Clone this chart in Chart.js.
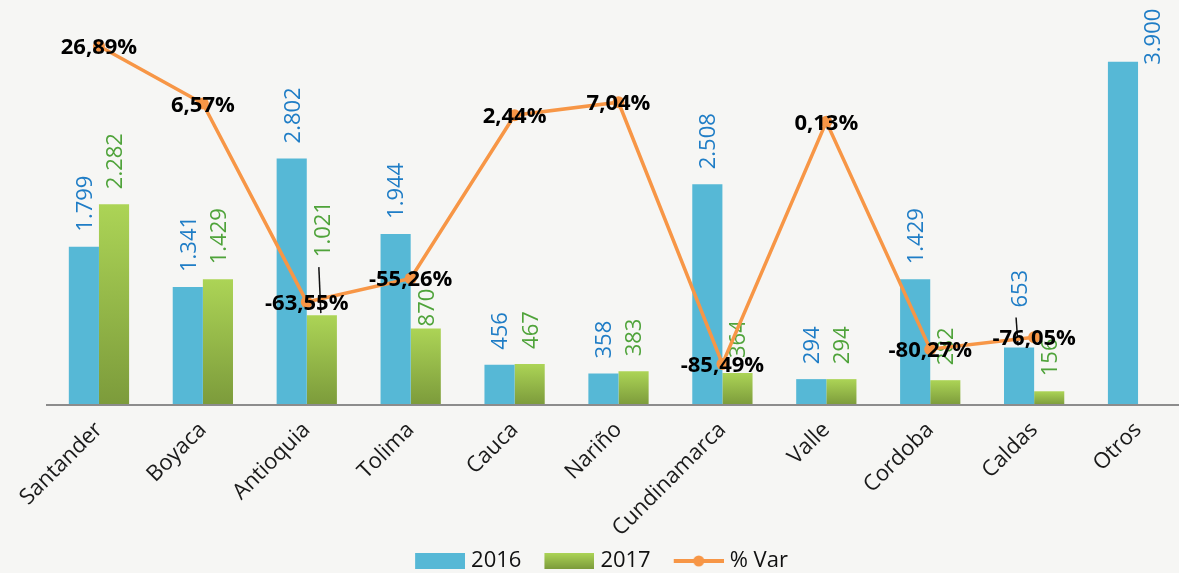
<!DOCTYPE html>
<html>
<head>
<meta charset="utf-8">
<script src="https://cdn.jsdelivr.net/npm/chart.js@4.4.1/dist/chart.umd.min.js"></script>
<style>
html,body{margin:0;padding:0;overflow:hidden;background:#f6f6f4;}
#wrap{width:1202px;height:582px;}
</style>
</head>
<body>
<div id="wrap"><canvas id="chart"></canvas></div>
<script>

/* Data */

const categories=["Santander","Boyaca","Antioquia","Tolima","Cauca","Nariño","Cundinamarca","Valle","Cordoba","Caldas","Otros"];
const values2016=[1799,1341,2802,1944,456,358,2508,294,1429,653,3900];
const values2017=[2282,1429,1021,870,467,383,364,294,282,156,null];
const varPct=[26.89,6.57,-63.55,-55.26,2.44,7.04,-85.49,0.13,-80.27,-76.05,null];

/* Label tweaks: dataset-index -> nudge */

const labelNudge={
"1-2":{dy:-43,leader:true},
"1-3":{dy:13},
"0-9":{dy:-25,leader:true},
"0-10":{side:true}
};

const blue="#56b8d6";
const orange="#f79646";
const blueText="#1f7dc6";
const greenText="#4fa33a";

function fmtThousands(n){
if(n>=1000){
return Math.floor(n/1000)+"."+String(n%1000).padStart(3,"0");
}
return String(n);
}

function fmtPct(v){
return v.toFixed(2).replace(".",",")+"%";
}

/* Legend glyphs (transparent strip on the left gives the gap between items) */

const glyphMargin=18;

function glyph(draw){
const c=document.createElement("canvas");
c.width=50+glyphMargin;c.height=16;
const g=c.getContext("2d");
g.translate(glyphMargin,0);
draw(g);
return c;
}

const blueGlyph=glyph(g=>{g.fillStyle=blue;g.fillRect(0,0,50,16);});
const greenGlyph=glyph(g=>{
const gr=g.createLinearGradient(0,0,0,16);
gr.addColorStop(0,"#acd456");
gr.addColorStop(1,"#7c9b3b");
g.fillStyle=gr;g.fillRect(0,0,50,16);
});
const lineGlyph=glyph(g=>{
g.strokeStyle=orange;g.lineWidth=4;
g.beginPath();g.moveTo(0,8);g.lineTo(50,8);g.stroke();
g.fillStyle=orange;g.beginPath();g.arc(25,8,5.5,0,Math.PI*2);g.fill();
});

/* Green bar gradient, one per bar */

function greenFill(ctx){
const chart=ctx.chart;
const y=chart.scales.y;
if(!y||ctx.raw==null) return "#9bbb59";
const top=y.getPixelForValue(ctx.raw);
const bottom=y.getPixelForValue(0);
if(!isFinite(top)||bottom-top<1) return "#9bbb59";
const gr=chart.ctx.createLinearGradient(0,top,0,bottom);
gr.addColorStop(0,"#acd456");
gr.addColorStop(1,"#7c9b3b");
return gr;
}

/* Labels plugin */

const labelsPlugin={
id:"labels",
afterDatasetDraw(chart,args){
const meta=args.meta;
if(meta.type!=="bar") return;
const c=chart.ctx;
const di=args.index;
const data=chart.data.datasets[di].data;
c.save();
c.font="22px 'Open Sans'";
c.fillStyle=di===0?blueText:greenText;
c.textAlign="left";
c.textBaseline="alphabetic";
const capH=22*0.714;
meta.data.forEach((bar,i)=>{
if(data[i]==null) return;
const n=labelNudge[di+"-"+i]||{};
let x=bar.x+capH/2;
let y=bar.y-15+(n.dy||0);
if(n.side){
x=bar.x+bar.width/2+6+capH;
y=bar.y+3;
}
c.save();
c.translate(x,y);
c.rotate(-Math.PI/2);
c.fillText(fmtThousands(data[i]),0,0);
c.restore();
if(n.leader){
c.save();
c.strokeStyle="#111";
c.lineWidth=1.5;
c.beginPath();
c.moveTo(bar.x-3,y+10);
c.lineTo(bar.x-1,bar.y-2);
c.stroke();
c.restore();
}
});
c.restore();
},
afterDatasetsDraw(chart){
const meta=chart.getDatasetMeta(2);
const c=chart.ctx;
c.save();
c.font="bold 22px 'Open Sans'";
c.fillStyle="#000";
c.textAlign="center";
c.textBaseline="alphabetic";
meta.data.forEach((pt,i)=>{
if(varPct[i]==null) return;
c.fillText(fmtPct(varPct[i]),pt.x,pt.y+8);
});
c.restore();
}
};

/* Chart */

const ctx=document.getElementById("chart");

const chart=new Chart(ctx,{
type:"bar",
data:{
labels:categories,
datasets:[{
label:"2016",
data:values2016,
backgroundColor:blue,
order:2,
categoryPercentage:0.58,
barPercentage:1
},{
label:"2017",
data:values2017,
backgroundColor:greenFill,
order:2,
categoryPercentage:0.58,
barPercentage:1
},{
type:"line",
label:"% Var",
data:varPct,
yAxisID:"y1",
borderColor:orange,
borderWidth:3.5,
pointRadius:6,
pointBackgroundColor:orange,
pointBorderWidth:0,
tension:0,
order:1
}]
},
options:{
responsive:true,
maintainAspectRatio:false,
animation:false,
events:[],
layout:{padding:{left:0,right:12,top:9,bottom:0}},
plugins:{
tooltip:{enabled:false},
legend:{
position:"bottom",
labels:{
usePointStyle:true,
pointStyleWidth:50+glyphMargin-10,
padding:10,
font:{family:"'Open Sans'",size:22},
color:"#111",
generateLabels(){
return [
{text:"2016",pointStyle:blueGlyph,fontColor:"#111",lineWidth:0,datasetIndex:0},
{text:"2017",pointStyle:greenGlyph,fontColor:"#111",lineWidth:0,datasetIndex:1},
{text:"% Var",pointStyle:lineGlyph,fontColor:"#111",lineWidth:0,datasetIndex:2}
];
}
}
}
},
scales:{
x:{
grid:{display:false,drawTicks:false},
border:{display:true,color:"#8c8c8c",width:2,z:1},
ticks:{
minRotation:45,
maxRotation:45,
padding:12,
color:"#1a1a1a",
font:{family:"'Open Sans'",size:22}
},
afterFit(scale){scale.height=135;}
},
y:{
min:0,max:4500,
grid:{display:false},
border:{display:false},
ticks:{display:false},
afterFit(scale){scale.width=47;}
},
y1:{
display:false,
position:"right",
min:-100,max:40
}
}
},
plugins:[labelsPlugin]
});

</script>
</body>
</html>
